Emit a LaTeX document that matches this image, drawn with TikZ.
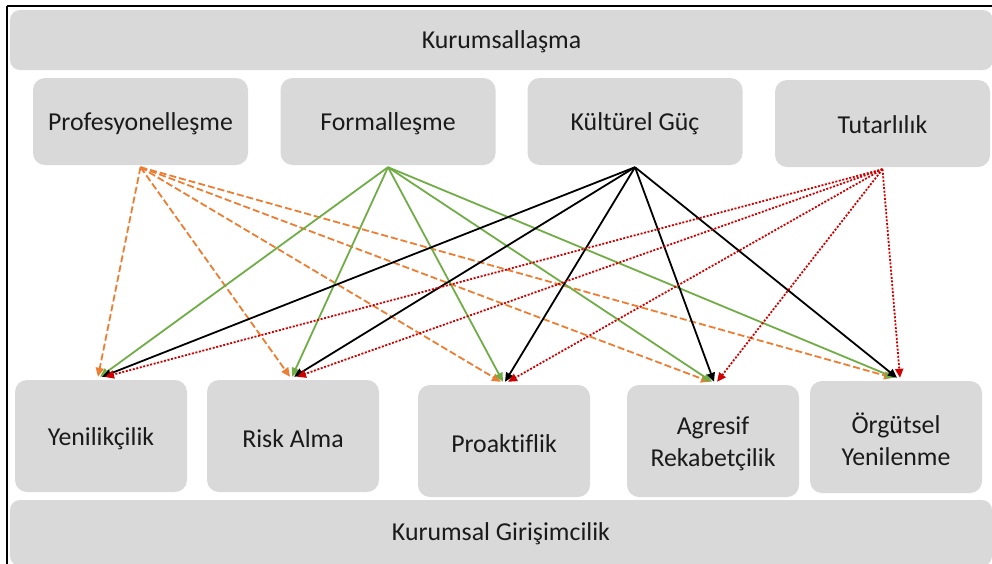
\documentclass[tikz,border=0pt]{standalone}
\usepackage{fontspec}
\setmainfont[Ligatures=CommonOff]{Carlito}
\usetikzlibrary{arrows.meta}
\definecolor{boxgray}{HTML}{D9D9D9}
\definecolor{txt}{HTML}{1A1A1A}
\definecolor{cOrange}{HTML}{ED7D31}
\definecolor{cGreen}{HTML}{70AD47}
\definecolor{cRed}{HTML}{D00000}
\tikzset{
  box/.style={fill=boxgray, rounded corners=12pt, inner sep=0pt},
  lbl/.style={text=txt, align=center, inner sep=0pt,
              font=\fontsize{25.8}{32}\selectfont},
  topbox/.style={box, minimum width=215pt, minimum height=87pt},
  botbox/.style={box, minimum width=172pt, minimum height=112pt},
  bar/.style={box, rounded corners=10pt},
  link/.style={line width=1.8pt, -{Triangle[length=9pt,width=8pt]}},
  lprof/.style={link, cOrange, dash pattern=on 7pt off 3pt},
  lform/.style={link, cGreen},
  lkult/.style={link, black},
  ltut/.style={link, cRed, dash pattern=on 2pt off 1.6pt},
}
\begin{document}
\begin{tikzpicture}[x=1pt,y=-1pt]
\useasboundingbox (0,0) rectangle (992,563);
% window frame
\draw[line width=1.6pt, black] (7,6) -- (1000,6);
\draw[line width=1.6pt, black] (7,6) -- (7,570);

% bars
\node[bar, minimum width=983pt, minimum height=60pt] (kurum) at (501.5,40) {};
\node[lbl] (kurumT) at ([yshift=-2pt]kurum.center) {Kurumsallaşma};
\node[bar, minimum width=982pt, minimum height=66pt] (girisim) at (501,533) {};
\node[lbl] (girisimT) at ([yshift=-1pt]girisim.center) {Kurumsal Girişimcilik};

% upper boxes
\node[topbox] (prof) at (140.5,121.5) {};
\node[topbox] (form) at (388,121.5) {};
\node[topbox] (kult) at (635,121.5) {};
\node[topbox] (tut)  at (882.5,123.5) {};
\node[lbl] (profT) at ([yshift=-2.5pt]prof.center) {Profesyonelleşme};
\node[lbl] (formT) at ([yshift=-2.5pt]form.center) {Formalleşme};
\node[lbl] (kultT) at ([yshift=-2.5pt]kult.center) {Kültürel Güç};
\node[lbl] (tutT)  at ([yshift=-1.5pt]tut.center) {Tutarlılık};

% lower boxes
\node[botbox] (yen)  at (101,436) {};
\node[botbox] (risk) at (293,436) {};
\node[botbox] (pro)  at (504,441) {};
\node[botbox] (agr)  at (713,441) {};
\node[botbox] (org)  at (896,437) {};
\node[lbl] (yenT)  at ([yshift=-2.5pt]yen.center) {Yenilikçilik};
\node[lbl] (riskT) at ([yshift=-2.5pt]risk.center) {Risk Alma};
\node[lbl] (proT)  at ([yshift=-2.5pt]pro.center) {Proaktiflik};
\node[lbl] (agrT)  at ([yshift=-2.5pt]agr.center) {Agresif\\Rekabetçilik};
\node[lbl] (orgT)  at ([yshift=-2.5pt]org.center) {Örgütsel\\Yenilenme};

% connector end points
\coordinate (sP) at ([yshift=-2pt]prof.south);
\coordinate (sF) at ([yshift=-2pt]form.south);
\coordinate (sK) at ([yshift=-2pt]kult.south);
\coordinate (sT) at ([yshift=-2pt]tut.south);
\foreach \t in {yen,risk,pro,agr,org}{
  \coordinate (\t-o) at ([xshift=-3pt,yshift=3pt]\t.north);
  \coordinate (\t-g) at ([xshift=-1pt,yshift=3pt]\t.north);
  \coordinate (\t-k) at ([xshift=1pt,yshift=3pt]\t.north);
  \coordinate (\t-r) at ([xshift=4pt,yshift=3pt]\t.north);
}

% connectors
\foreach \t in {yen,risk,pro,agr,org}{\draw[lprof] (sP) -- (\t-o);}
\foreach \t in {yen,risk,pro,agr,org}{\draw[lform] (sF) -- (\t-g);}
\foreach \t in {yen,risk,pro,agr,org}{\draw[lkult] (sK) -- (\t-k);}
\foreach \t in {yen,risk,pro,agr,org}{\draw[ltut] (sT) -- (\t-r);}
\end{tikzpicture}
\end{document}
